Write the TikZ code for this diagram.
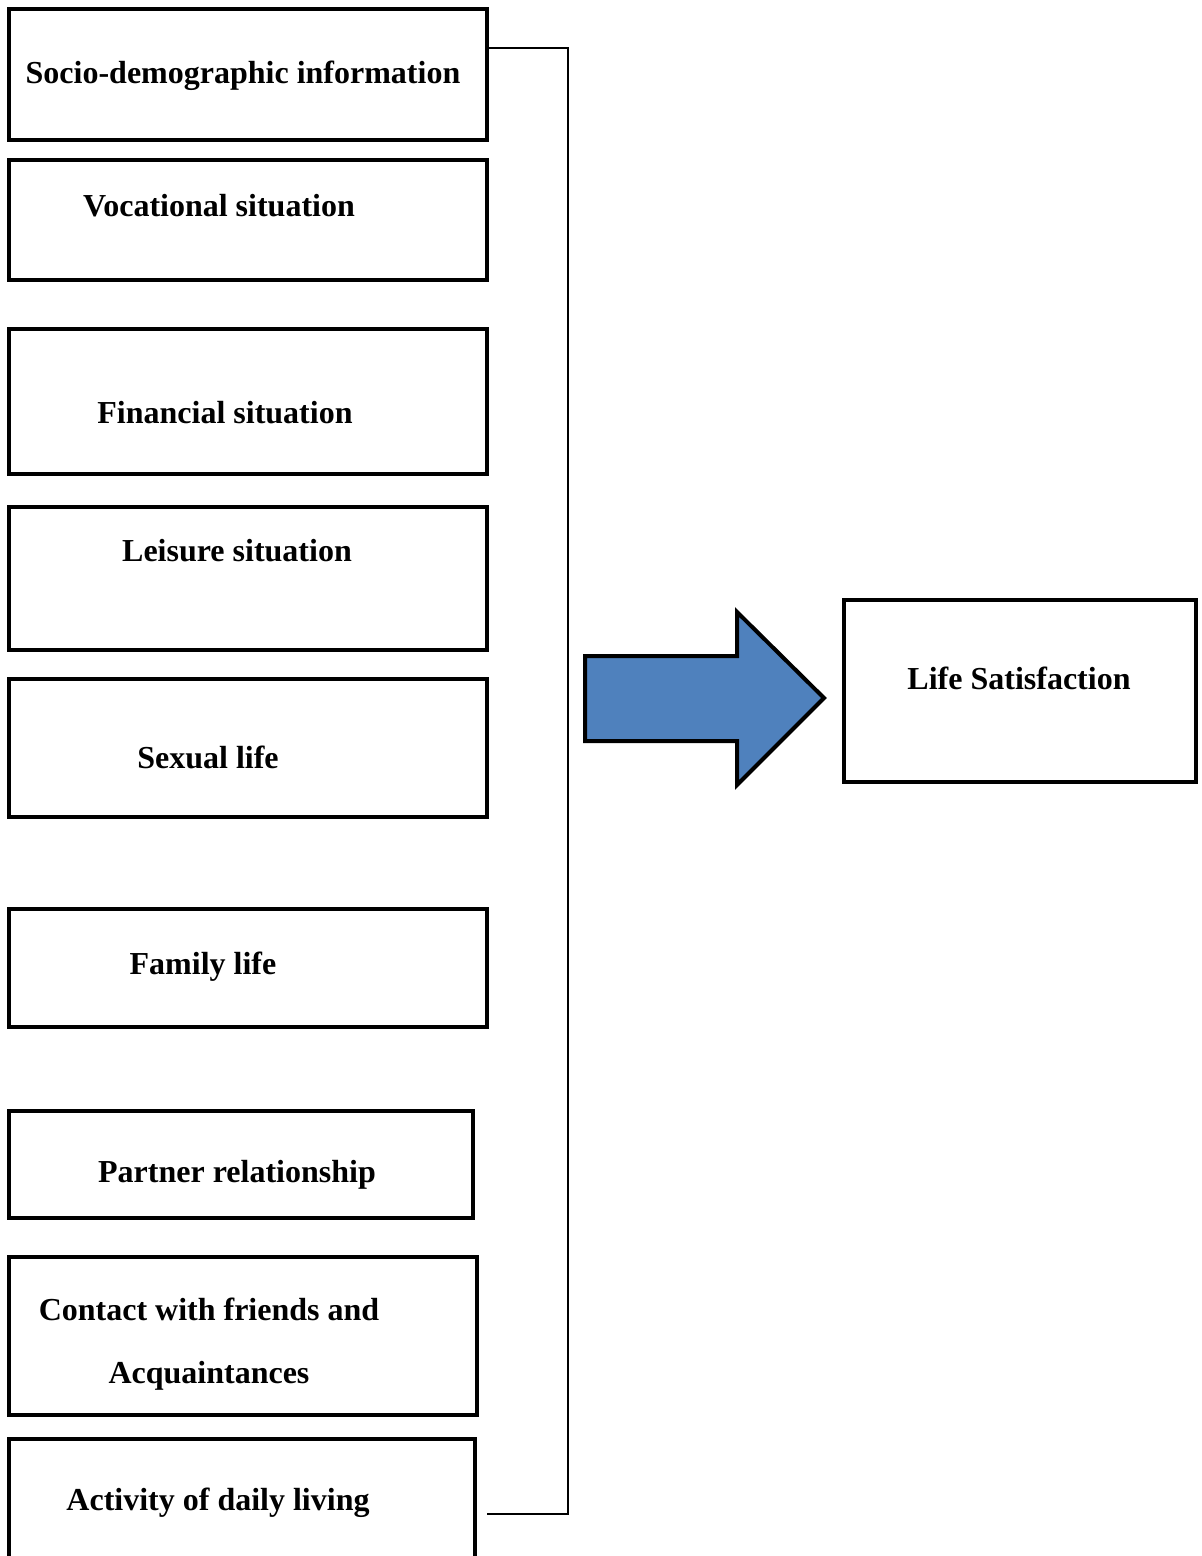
\documentclass[tikz,border=0pt]{standalone}
\usepackage{fontspec}
\setmainfont{Liberation Serif}
\usepackage{tikz}
\definecolor{arrowblue}{HTML}{4F81BD}

\begin{document}
\begin{tikzpicture}[x=0.5pt,y=-0.5pt,
  box/.style={draw,line width=2.2pt,inner sep=0pt},
  lbl/.style={font=\fontsize{16}{31.5}\selectfont\bfseries,inner sep=0pt,align=center}]
\clip (0,0) rectangle (1202,1556);
% factor boxes
\node[box,minimum width=239pt,minimum height=65.5pt] (soc) at (248,74.5) {};
\node[box,minimum width=239pt,minimum height=60pt] (voc) at (248,220) {};
\node[box,minimum width=239pt,minimum height=72.5pt] (fin) at (248,401.5) {};
\node[box,minimum width=239pt,minimum height=71.5pt] (lei) at (248,578.5) {};
\node[box,minimum width=239pt,minimum height=69pt] (sex) at (248,748) {};
\node[box,minimum width=239pt,minimum height=59pt] (fam) at (248,968) {};
\node[box,minimum width=232pt,minimum height=53.5pt] (par) at (241,1164.5) {};
\node[box,minimum width=234pt,minimum height=79pt] (con) at (243,1336) {};
\node[box,minimum width=233pt,minimum height=80pt] (act) at (242,1519) {};
\node[lbl] (soct) at (243,76) {Socio-demographic information};
\node[lbl] (voct) at (219,206) {Vocational situation};
\node[lbl] (fint) at (225,413) {Financial situation};
\node[lbl] (leit) at (237,551) {Leisure situation};
\node[lbl] (sext) at (208,757) {Sexual life};
\node[lbl] (famt) at (203,967) {Family life};
\node[lbl] (part) at (237,1175) {Partner relationship};
\node[lbl] (cont) at (209,1344) {Contact with friends and\\Acquaintances};
\node[lbl] (actt) at (218,1503) {Activity of daily living};
% outcome
\node[box,minimum width=176pt,minimum height=91pt] (life) at (1020,691) {};
\node[lbl] (lifet) at (1019,678) {Life Satisfaction};
% bracket
\coordinate (bend) at (487,1514);
\draw[line width=0.8pt] (soc.east |- 0,48) -- (568,48) -- (568,1514) -- (bend);
% block arrow
\draw[line width=2pt,fill=arrowblue,line join=miter]
  (585,656) -- (737,656) -- (737,612) -- (824,698) -- (737,785) -- (737,741) -- (585,741) -- cycle;
\end{tikzpicture}
\end{document}
